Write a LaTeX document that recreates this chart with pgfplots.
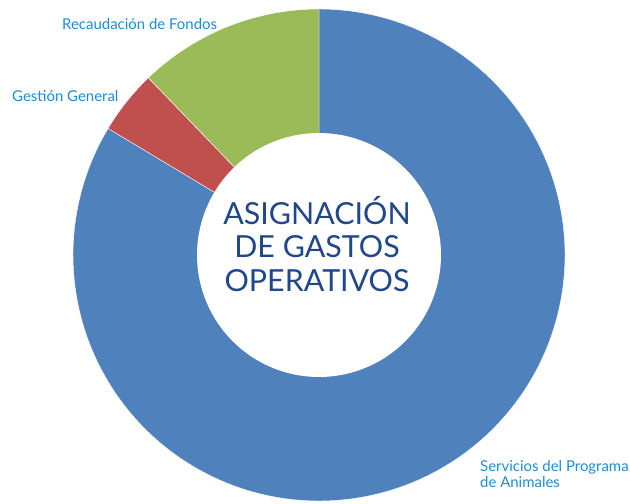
\documentclass[border=0pt]{standalone}
\usepackage{fontspec}
\setmainfont{Lato}
\usepackage{pgfplots}
\usepackage{pgfplotstable}
\pgfplotsset{compat=1.18}
\definecolor{cblue}{RGB}{79,129,189}
\definecolor{cred}{RGB}{192,80,77}
\definecolor{cgreen}{RGB}{155,187,89}
\definecolor{labelc}{RGB}{28,140,212}
\definecolor{titlec}{RGB}{32,70,140}
\pgfplotstableread{
label value
Servicios 83.6
Gestion 4.2
Recaudacion 12.2
}\datatable
\begin{document}
\begin{tikzpicture}
\pgfplotstablegetelem{0}{value}\of\datatable \let\va\pgfplotsretval
\pgfplotstablegetelem{1}{value}\of\datatable \let\vb\pgfplotsretval
\pgfplotstablegetelem{2}{value}\of\datatable \let\vc\pgfplotsretval
\pgfmathsetmacro{\aA}{90}
\pgfmathsetmacro{\aB}{90-3.6*\va}
\pgfmathsetmacro{\aC}{90-3.6*(\va+\vb)}
\pgfmathsetmacro{\aD}{90-3.6*(\va+\vb+\vc)}
\begin{axis}[
  scale only axis, width=630bp, height=503bp,
  xmin=-319, xmax=311, ymin=-248, ymax=255,
  hide axis, clip=false,
]
\path (rel axis cs:0,0) rectangle (rel axis cs:1,1);
\addplot[fill=cblue, draw=white, line width=0.4pt, domain=\aB:\aA, samples=150, variable=\t]
  ({246*cos(\t)},{246*sin(\t)}) -- (axis cs:0,0) -- cycle;
\addplot[fill=cred, draw=white, line width=0.4pt, domain=\aC:\aB, samples=20, variable=\t]
  ({246*cos(\t)},{246*sin(\t)}) -- (axis cs:0,0) -- cycle;
\addplot[fill=cgreen, draw=white, line width=0.4pt, domain=\aD:\aC, samples=40, variable=\t]
  ({246*cos(\t)},{246*sin(\t)}) -- (axis cs:0,0) -- cycle;
\addplot[fill=white, draw=none, domain=0:360, samples=200, variable=\t]
  ({122*cos(\t)},{122*sin(\t)}) -- cycle;
\node[anchor=base west, font=\fontsize{15}{18}\selectfont, text=labelc, inner sep=0pt] at (axis cs:-257,225) {Recaudación de Fondos};
\node[anchor=base west, font=\fontsize{15}{18}\selectfont, text=labelc, inner sep=0pt] at (axis cs:-307,153) {Gestión General};
\node[anchor=base west, font=\fontsize{15}{18}\selectfont, text=labelc, inner sep=0pt] at (axis cs:161,-216) {Servicios del Programa};
\node[anchor=base west, font=\fontsize{15}{18}\selectfont, text=labelc, inner sep=0pt] at (axis cs:161,-232) {de Animales};
\node[anchor=base, font=\fontsize{30.5}{33}\selectfont, text=titlec, inner sep=0pt] at (axis cs:-2,30) {ASIGNACIÓN};
\node[anchor=base, font=\fontsize{30.5}{33}\selectfont, text=titlec, inner sep=0pt] at (axis cs:-2,-2) {DE GASTOS};
\node[anchor=base, font=\fontsize{30.5}{33}\selectfont, text=titlec, inner sep=0pt] at (axis cs:-2,-36) {OPERATIVOS};
\end{axis}
\end{tikzpicture}
\end{document}
